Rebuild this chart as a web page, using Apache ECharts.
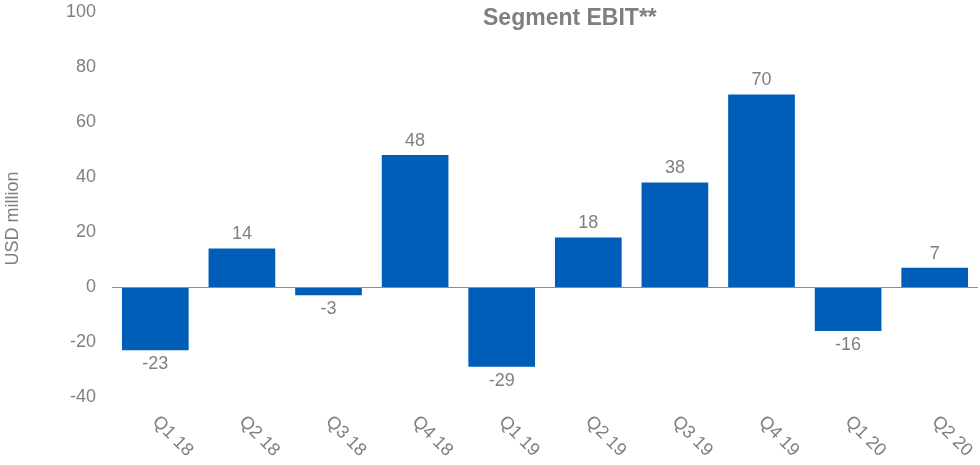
<!DOCTYPE html>
<html>
<head>
<meta charset="utf-8">
<script src="https://cdn.jsdelivr.net/npm/echarts@6/dist/echarts.min.js"></script>
<style>html,body{margin:0;padding:0;background:#fff}#c{width:980px;height:465px}</style>
</head>
<body>
<div id="c"></div>
<script>
const categories = ['Q1 18','Q2 18','Q3 18','Q4 18','Q1 19','Q2 19','Q3 19','Q4 19','Q1 20','Q2 20'];
const ebit = [-23, 14, -3, 48, -29, 18, 38, 70, -16, 7];
const yTicks = {min: -40, max: 100, interval: 20};
const titleText = 'Segment EBIT**';
const yName = 'USD million';

const grey = '#7f7f7f';
const font = 'Liberation Sans, Arial, sans-serif';
const chart = echarts.init(document.getElementById('c'));
chart.setOption({
  animation: false,
  textStyle: {fontFamily: font},
  title: {
    text: titleText, left: 478, top: 2,
    textStyle: {fontFamily: font, fontSize: 23, fontWeight: 'bold', color: grey}
  },
  grid: {left: 112, right: 2, top: 12, bottom: 68, containLabel: false, outerBoundsMode: 'none'},
  xAxis: {
    type: 'category', data: categories,
    axisLine: {show: false, onZero: false},
    axisTick: {show: false},
    axisLabel: {rotate: -45, margin: 22, fontSize: 18, color: grey, fontFamily: font}
  },
  yAxis: {
    type: 'value', min: yTicks.min, max: yTicks.max, interval: yTicks.interval,
    name: yName, nameLocation: 'middle', nameGap: 90, nameRotate: 90,
    nameTextStyle: {fontSize: 18, color: grey, fontFamily: font, padding: [0, 28, 0, 0]},
    axisLine: {show: false}, axisTick: {show: false}, splitLine: {show: false},
    axisLabel: {fontSize: 18, color: grey, margin: 16, fontFamily: font}
  },
  series: [{
    type: 'bar', data: ebit.map(v => ({
      value: v,
      label: {position: v >= 0 ? 'top' : 'bottom'}
    })),
    barCategoryGap: '23%',
    itemStyle: {color: '#005EB8'},
    label: {show: true, distance: 5, fontSize: 18, color: grey, fontFamily: font},
    markLine: {
      silent: true, symbol: 'none', label: {show: false},
      lineStyle: {color: '#8c8c8c', width: 1, type: 'solid'},
      data: [{yAxis: 0}]
    },
    z: 3
  }]
});
</script>
</body>
</html>
